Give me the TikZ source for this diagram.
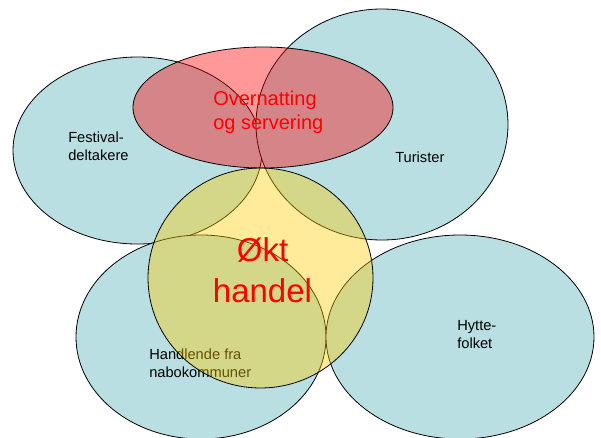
\documentclass[tikz,border=0pt]{standalone}
\usepackage{fontspec}
\setmainfont{Liberation Sans}
\definecolor{setblue}{RGB}{186,223,227}
\definecolor{setred}{RGB}{255,0,0}
\definecolor{setyellow}{RGB}{255,204,0}
\begin{document}
\begin{tikzpicture}[x=0.75pt,y=-0.75pt,
  bluefill/.style={fill=setblue,draw=black,line width=0.6pt},
  redfill/.style={fill=setred,fill opacity=0.4,draw=black,draw opacity=1,line width=0.6pt},
  yellowfill/.style={fill=setyellow,fill opacity=0.4,draw=black,draw opacity=1,line width=0.6pt},
  smalllabel/.style={inner sep=0pt,align=left,font=\fontsize{11}{13.5}\selectfont,text=black},
  redlabel/.style={inner sep=0pt,text=red}]
\useasboundingbox (0,0) rectangle (601,437);
\begin{scope}
\clip (0,0) rectangle (601,437);
% blue sets
\draw[bluefill] (137.5,150.5) ellipse [x radius=124.5, y radius=93.5];
\draw[bluefill] (382,124.5) ellipse [x radius=126, y radius=115.5];
\draw[bluefill] (201,337) ellipse [x radius=125, y radius=102];
\draw[bluefill] (460,337) ellipse [x radius=134, y radius=102];
\end{scope}
% labels of the blue sets
\node[smalllabel,anchor=west] (festival) at (68,146.5) {Festival-\\deltakere};
\node[smalllabel,anchor=west] (turister) at (395,157.5) {Turister};
\node[smalllabel,anchor=west] (hytte) at (457,334.7) {Hytte-\\folket};
\node[smalllabel,anchor=west] (handlende) at (149,363.5) {Handlende fra\\nabokommuner};
% translucent sets
\draw[redfill] (263,107.5) ellipse [x radius=130, y radius=60.5];
\draw[yellowfill] (260.5,278) ellipse [x radius=112.5, y radius=110];
% labels of the translucent sets
\node[redlabel,align=left,anchor=west,font=\fontsize{15}{18.2}\selectfont] (overnatting) at (213,112) {Overnatting\\og servering};
\node[redlabel,align=center,font=\fontsize{24.75}{30.75}\selectfont] (okt) at (262.5,269.8) {Økt\\handel};
\end{tikzpicture}
\end{document}
